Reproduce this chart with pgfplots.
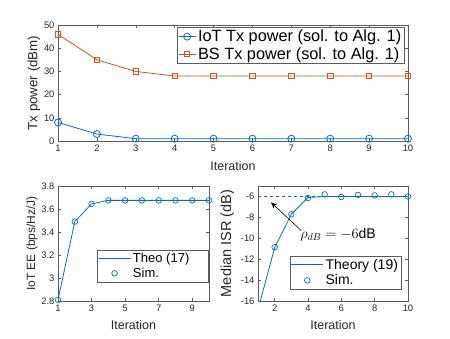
\documentclass[border=0pt]{standalone}
\usepackage{fontspec}
\setmainfont{Liberation Sans}
\usepackage{pgfplots}
\pgfplotsset{compat=1.18}
\usetikzlibrary{arrows.meta}
\definecolor{mblue}{RGB}{0,114,189}
\definecolor{morange}{RGB}{217,83,25}
\definecolor{axgray}{RGB}{38,38,38}

\pgfplotsset{
  mstyle/.style={
    scale only axis,
    axis line style={axgray!75, line width=0.5pt},
    tick style={axgray!75, line width=0.5pt},
    tick align=inside, major tick length=3pt,
    ticklabel style={font=\fontsize{9.4}{10}\selectfont, color=axgray},
    label style={font=\fontsize{12.5}{13}\selectfont, color=axgray},
    /pgf/number format/assume math mode=true,
    legend style={draw=axgray!75, line width=0.5pt, inner sep=1pt, text=black},
    legend cell align=left,
    minor tick num=0,
  },
  longline/.style={legend image code/.code={
    \draw[##1, line width=0.8pt] (0pt,0pt) -- (32pt,0pt);}},
  longmark/.style={legend image code/.code={
    \draw[##1, line width=0.7pt] plot coordinates {(16pt,0pt)};}},
}

\begin{document}
\begin{tikzpicture}
\path (0pt,0pt) rectangle (450pt,338pt);

% top: Tx power
\begin{axis}[mstyle,
    at={(58pt,197pt)}, anchor=south west,
    width=350pt, height=116pt,
    xmin=1, xmax=10, ymin=0, ymax=50,
    xtick={1,...,10}, ytick={0,10,...,50},
    xlabel={Iteration}, ylabel={Tx power (dBm)},
    ylabel style={font=\fontsize{13.3}{14}\selectfont, yshift=-3pt},
    xlabel style={yshift=-3pt},
    legend style={at={(0.99,0.985)}, anchor=north east,
      font=\fontsize{16.3}{18}\selectfont},
  ]
  \addplot[mblue, line width=0.8pt, mark=o, mark size=3.5pt] coordinates {
    (1,8) (2,3) (3,1) (4,1) (5,1) (6,1) (7,1) (8,1) (9,1) (10,1)};
  \addlegendentry{IoT Tx power (sol. to Alg. 1)}
  \addplot[morange, line width=0.8pt, mark=square, mark size=2.7pt] coordinates {
    (1,46) (2,35) (3,30) (4,28) (5,28) (6,28) (7,28) (8,28) (9,28) (10,28)};
  \addlegendentry{BS Tx power (sol. to Alg. 1)}
\end{axis}

% bottom left: IoT EE
\begin{axis}[mstyle,
    at={(58pt,37pt)}, anchor=south west,
    width=151pt, height=115pt,
    xmin=1, xmax=10, ymin=2.8, ymax=3.8,
    xtick={1,3,5,7,9}, ytick={2.8,3,3.2,3.4,3.6,3.8},
    yticklabel style={/pgf/number format/fixed, /pgf/number format/precision=1},
    xlabel={Iteration}, ylabel={IoT EE (bps/Hz/J)},
    ylabel style={font=\fontsize{12}{13}\selectfont, yshift=-3pt},
    xlabel style={yshift=-2pt},
    legend style={at={(0.995,0.165)}, anchor=south east,
      font=\fontsize{13}{15}\selectfont},
  ]
  \addplot[mblue, line width=0.8pt, longline] coordinates {
    (1,2.81) (2,3.49) (3,3.645) (4,3.675) (5,3.675) (6,3.675) (7,3.675) (8,3.675) (9,3.675) (10,3.675)};
  \addlegendentry{\makebox[72pt][l]{Theo (17)}}
  \addplot[mblue, only marks, mark=o, mark size=2.8pt, line width=0.7pt, longmark] coordinates {
    (1,2.81) (2,3.49) (3,3.645) (4,3.675) (5,3.675) (6,3.675) (7,3.675) (8,3.675) (9,3.675) (10,3.675)};
  \addlegendentry{Sim.}
\end{axis}

% bottom right: Median ISR
\begin{axis}[mstyle,
    at={(258pt,37pt)}, anchor=south west,
    width=150pt, height=115pt,
    xmin=1, xmax=10, ymin=-16, ymax=-5,
    xtick={2,4,...,10}, ytick={-16,-14,...,-6},
    xlabel={Iteration}, ylabel={Median ISR (dB)},
    ylabel style={font=\fontsize{14.5}{15}\selectfont},
    xlabel style={yshift=-2pt},
    legend style={at={(0.955,0.10)}, anchor=south east,
      font=\fontsize{14}{16}\selectfont},
  ]
  \addplot[mblue, line width=0.8pt, longline] coordinates {
    (1,-16.8) (2,-10.9) (3,-7.7) (4,-6.1) (5,-6) (6,-6) (7,-6) (8,-6) (9,-6) (10,-6)};
  \addlegendentry{Theory (19)}
  \addplot[mblue, only marks, mark=o, mark size=2.8pt, line width=0.7pt, longmark] coordinates {
    (2,-10.85) (3,-7.7) (4,-6.15) (5,-5.8) (6,-6.05) (7,-5.85) (8,-5.9) (9,-5.8) (10,-6.0)};
  \addlegendentry{Sim.}
  \addplot[mblue, line width=0.8pt, dashed, forget plot] coordinates {(1,-6) (10,-6)};
  \draw[-{Stealth[length=6pt,width=5pt]}, line width=0.6pt, black] (axis cs:3.58,-9.24) -- (axis cs:1.78,-6.57);
  \node[font=\fontsize{14}{16}\selectfont] at (axis cs:5.8,-9.7) {$\rho_{dB}=-6\mathrm{dB}$};
\end{axis}
\end{tikzpicture}
\end{document}
